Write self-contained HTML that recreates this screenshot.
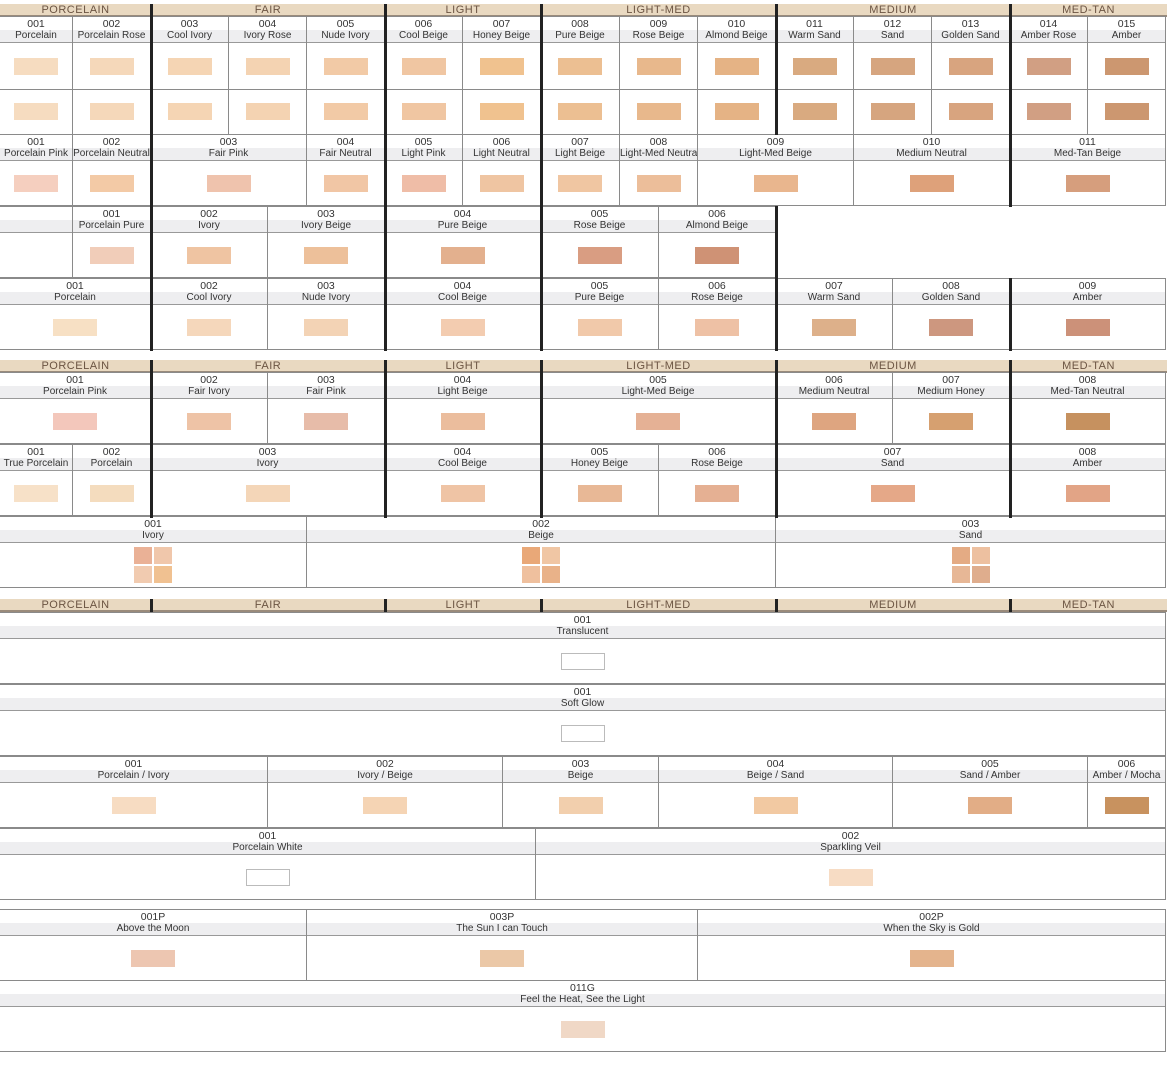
<!DOCTYPE html>
<html><head><meta charset="utf-8"><style>
*{box-sizing:border-box;margin:0;padding:0}
body{width:1173px;height:1087px;background:#fff;position:relative;overflow:hidden;font-family:"Liberation Sans",sans-serif;color:#333}
.c{position:absolute;height:72px;border:1px solid #8a8a8a;margin-left:-1px;margin-top:-1px}
.c b{display:block;font-weight:normal;font-size:10.5px;text-align:center;height:13px;line-height:14px;white-space:nowrap}
.c i{display:block;font-style:normal;font-size:10px;text-align:center;height:13px;line-height:12px;background:#eeeef0;border-bottom:1px solid #999;white-space:nowrap;overflow:hidden}
.c s{position:absolute;left:50%;margin-left:-22px;top:40px;width:44px;height:17px;text-decoration:none}
.t{height:119px}
.t s.a{top:41px}.t s.b2{top:86px}
.t u{position:absolute;left:0;right:0;top:72px;border-top:1px solid #8a8a8a}
.o{border:1px solid #bbb}
.q{position:absolute;left:50%;margin-left:-19px;top:30px;width:38px;height:36px;display:grid;grid-template-columns:1fr 1fr;gap:2px}
.h{position:absolute;height:13px;background:#e9d9c1;border-bottom:2px solid #9a8b7b;font-size:11px;color:#6b5442;text-align:center;line-height:12px;letter-spacing:.5px}
.v{position:absolute;width:3px;background:#222}
</style></head><body>
<!-- SECTION 1 headers -->
<div class="h" style="top:4px;left:0;width:151px">PORCELAIN</div>
<div class="h" style="top:4px;left:151px;width:234px">FAIR</div>
<div class="h" style="top:4px;left:385px;width:156px">LIGHT</div>
<div class="h" style="top:4px;left:541px;width:235px">LIGHT-MED</div>
<div class="h" style="top:4px;left:776px;width:234px">MEDIUM</div>
<div class="h" style="top:4px;left:1010px;width:157px">MED-TAN</div>
<!-- row1 -->
<div class="c t" style="top:17px;left:0;width:74px"><b>001</b><i>Porcelain</i><s class="a" style="background:#f6dcc0"></s><u></u><s class="b2" style="background:#f6dcc0"></s></div>
<div class="c t" style="top:17px;left:73px;width:79px"><b>002</b><i>Porcelain Rose</i><s class="a" style="background:#f5d8ba"></s><u></u><s class="b2" style="background:#f5d8ba"></s></div>
<div class="c t" style="top:17px;left:151px;width:79px"><b>003</b><i>Cool Ivory</i><s class="a" style="background:#f5d5b4"></s><u></u><s class="b2" style="background:#f5d5b4"></s></div>
<div class="c t" style="top:17px;left:229px;width:79px"><b>004</b><i>Ivory Rose</i><s class="a" style="background:#f4d3b2"></s><u></u><s class="b2" style="background:#f4d3b2"></s></div>
<div class="c t" style="top:17px;left:307px;width:79px"><b>005</b><i>Nude Ivory</i><s class="a" style="background:#f2caa6"></s><u></u><s class="b2" style="background:#f2caa6"></s></div>
<div class="c t" style="top:17px;left:385px;width:79px"><b>006</b><i>Cool Beige</i><s class="a" style="background:#f0c6a2"></s><u></u><s class="b2" style="background:#f0c6a2"></s></div>
<div class="c t" style="top:17px;left:463px;width:79px"><b>007</b><i>Honey Beige</i><s class="a" style="background:#f0c28f"></s><u></u><s class="b2" style="background:#f0c28f"></s></div>
<div class="c t" style="top:17px;left:541px;width:80px"><b>008</b><i>Pure Beige</i><s class="a" style="background:#ecbf92"></s><u></u><s class="b2" style="background:#ecbf92"></s></div>
<div class="c t" style="top:17px;left:620px;width:79px"><b>009</b><i>Rose Beige</i><s class="a" style="background:#e8b88c"></s><u></u><s class="b2" style="background:#e8b88c"></s></div>
<div class="c t" style="top:17px;left:698px;width:79px"><b>010</b><i>Almond Beige</i><s class="a" style="background:#e5b385"></s><u></u><s class="b2" style="background:#e5b385"></s></div>
<div class="c t" style="top:17px;left:776px;width:79px"><b>011</b><i>Warm Sand</i><s class="a" style="background:#d9aa80"></s><u></u><s class="b2" style="background:#d9aa80"></s></div>
<div class="c t" style="top:17px;left:854px;width:79px"><b>012</b><i>Sand</i><s class="a" style="background:#d6a57f"></s><u></u><s class="b2" style="background:#d6a57f"></s></div>
<div class="c t" style="top:17px;left:932px;width:79px"><b>013</b><i>Golden Sand</i><s class="a" style="background:#d8a47f"></s><u></u><s class="b2" style="background:#d8a47f"></s></div>
<div class="c t" style="top:17px;left:1010px;width:79px"><b>014</b><i>Amber Rose</i><s class="a" style="background:#d19f83"></s><u></u><s class="b2" style="background:#d19f83"></s></div>
<div class="c t" style="top:17px;left:1088px;width:79px"><b>015</b><i>Amber</i><s class="a" style="background:#cc9770"></s><u></u><s class="b2" style="background:#cc9770"></s></div>
<!-- row2 -->
<div class="c" style="top:135px;left:0;width:74px"><b>001</b><i>Porcelain Pink</i><s style="background:#f5cfbf"></s></div>
<div class="c" style="top:135px;left:73px;width:79px"><b>002</b><i>Porcelain Neutral</i><s style="background:#f3caa6"></s></div>
<div class="c" style="top:135px;left:151px;width:157px"><b>003</b><i>Fair Pink</i><s style="background:#efc3ad"></s></div>
<div class="c" style="top:135px;left:307px;width:79px"><b>004</b><i>Fair Neutral</i><s style="background:#f1c6a5"></s></div>
<div class="c" style="top:135px;left:385px;width:79px"><b>005</b><i>Light Pink</i><s style="background:#efbda7"></s></div>
<div class="c" style="top:135px;left:463px;width:79px"><b>006</b><i>Light Neutral</i><s style="background:#efc5a2"></s></div>
<div class="c" style="top:135px;left:541px;width:80px"><b>007</b><i>Light Beige</i><s style="background:#f0c6a2"></s></div>
<div class="c" style="top:135px;left:620px;width:79px"><b>008</b><i>Light-Med Neutral</i><s style="background:#ecbe9a"></s></div>
<div class="c" style="top:135px;left:698px;width:157px"><b>009</b><i>Light-Med Beige</i><s style="background:#e9b68e"></s></div>
<div class="c" style="top:135px;left:854px;width:157px"><b>010</b><i>Medium Neutral</i><s style="background:#dea17a"></s></div>
<div class="c" style="top:135px;left:1010px;width:157px"><b>011</b><i>Med-Tan Beige</i><s style="background:#d69e7d"></s></div>
<!-- row3 -->
<div class="c" style="top:207px;left:0;width:74px"><b>&nbsp;</b><i>&nbsp;</i></div>
<div class="c" style="top:207px;left:73px;width:79px"><b>001</b><i>Porcelain Pure</i><s style="background:#f1cdb9"></s></div>
<div class="c" style="top:207px;left:151px;width:118px"><b>002</b><i>Ivory</i><s style="background:#efc4a2"></s></div>
<div class="c" style="top:207px;left:268px;width:118px"><b>003</b><i>Ivory Beige</i><s style="background:#edc09a"></s></div>
<div class="c" style="top:207px;left:385px;width:157px"><b>004</b><i>Pure Beige</i><s style="background:#e3b08e"></s></div>
<div class="c" style="top:207px;left:541px;width:119px"><b>005</b><i>Rose Beige</i><s style="background:#d99d82"></s></div>
<div class="c" style="top:207px;left:659px;width:118px"><b>006</b><i>Almond Beige</i><s style="background:#cf9275"></s></div>
<!-- row4 -->
<div class="c" style="top:279px;left:0;width:152px"><b>001</b><i>Porcelain</i><s style="background:#f7e0c4"></s></div>
<div class="c" style="top:279px;left:151px;width:118px"><b>002</b><i>Cool Ivory</i><s style="background:#f5d7bb"></s></div>
<div class="c" style="top:279px;left:268px;width:118px"><b>003</b><i>Nude Ivory</i><s style="background:#f3d3b5"></s></div>
<div class="c" style="top:279px;left:385px;width:157px"><b>004</b><i>Cool Beige</i><s style="background:#f3ccb0"></s></div>
<div class="c" style="top:279px;left:541px;width:119px"><b>005</b><i>Pure Beige</i><s style="background:#f1c9aa"></s></div>
<div class="c" style="top:279px;left:659px;width:118px"><b>006</b><i>Rose Beige</i><s style="background:#eec1a5"></s></div>
<div class="c" style="top:279px;left:776px;width:118px"><b>007</b><i>Warm Sand</i><s style="background:#ddb08a"></s></div>
<div class="c" style="top:279px;left:893px;width:118px"><b>008</b><i>Golden Sand</i><s style="background:#cd977f"></s></div>
<div class="c" style="top:279px;left:1010px;width:157px"><b>009</b><i>Amber</i><s style="background:#cc9179"></s></div>
<div class="v" style="left:150px;top:4px;height:347px"></div>
<div class="v" style="left:384px;top:4px;height:347px"></div>
<div class="v" style="left:540px;top:4px;height:347px"></div>
<div class="v" style="left:775px;top:4px;height:131px"></div>
<div class="v" style="left:775px;top:206px;height:145px"></div>
<div class="v" style="left:1009px;top:4px;height:203px"></div>
<div class="v" style="left:1009px;top:278px;height:73px"></div>

<!-- SECTION 2 -->
<div class="h" style="top:360px;left:0;width:151px">PORCELAIN</div>
<div class="h" style="top:360px;left:151px;width:234px">FAIR</div>
<div class="h" style="top:360px;left:385px;width:156px">LIGHT</div>
<div class="h" style="top:360px;left:541px;width:235px">LIGHT-MED</div>
<div class="h" style="top:360px;left:776px;width:234px">MEDIUM</div>
<div class="h" style="top:360px;left:1010px;width:157px">MED-TAN</div>
<div class="c" style="top:373px;left:0;width:152px"><b>001</b><i>Porcelain Pink</i><s style="background:#f3c7bb"></s></div>
<div class="c" style="top:373px;left:151px;width:118px"><b>002</b><i>Fair Ivory</i><s style="background:#eec3a6"></s></div>
<div class="c" style="top:373px;left:268px;width:118px"><b>003</b><i>Fair Pink</i><s style="background:#e7bca9"></s></div>
<div class="c" style="top:373px;left:385px;width:157px"><b>004</b><i>Light Beige</i><s style="background:#ebbd9d"></s></div>
<div class="c" style="top:373px;left:541px;width:236px"><b>005</b><i>Light-Med Beige</i><s style="background:#e5b195"></s></div>
<div class="c" style="top:373px;left:776px;width:118px"><b>006</b><i>Medium Neutral</i><s style="background:#dea580"></s></div>
<div class="c" style="top:373px;left:893px;width:118px"><b>007</b><i>Medium Honey</i><s style="background:#d6a070"></s></div>
<div class="c" style="top:373px;left:1010px;width:157px"><b>008</b><i>Med-Tan Neutral</i><s style="background:#c6915f"></s></div>
<div class="c" style="top:445px;left:0;width:74px"><b>001</b><i>True Porcelain</i><s style="background:#f7e1c8"></s></div>
<div class="c" style="top:445px;left:73px;width:79px"><b>002</b><i>Porcelain</i><s style="background:#f4dcbe"></s></div>
<div class="c" style="top:445px;left:151px;width:235px"><b>003</b><i>Ivory</i><s style="background:#f4d6b8"></s></div>
<div class="c" style="top:445px;left:385px;width:157px"><b>004</b><i>Cool Beige</i><s style="background:#efc4a5"></s></div>
<div class="c" style="top:445px;left:541px;width:119px"><b>005</b><i>Honey Beige</i><s style="background:#e8b896"></s></div>
<div class="c" style="top:445px;left:659px;width:118px"><b>006</b><i>Rose Beige</i><s style="background:#e5b093"></s></div>
<div class="c" style="top:445px;left:776px;width:235px"><b>007</b><i>Sand</i><s style="background:#e5a888"></s></div>
<div class="c" style="top:445px;left:1010px;width:157px"><b>008</b><i>Amber</i><s style="background:#e2a486"></s></div>
<div class="c" style="top:517px;left:0;width:308px"><b>001</b><i>Ivory</i><div class="q"><span style="background:#eab196"></span><span style="background:#f0c7ab"></span><span style="background:#f1cbb0"></span><span style="background:#f0c191"></span></div></div>
<div class="c" style="top:517px;left:307px;width:470px"><b>002</b><i>Beige</i><div class="q"><span style="background:#e9a878"></span><span style="background:#f0c6a4"></span><span style="background:#efc09e"></span><span style="background:#e9b289"></span></div></div>
<div class="c" style="top:517px;left:776px;width:391px"><b>003</b><i>Sand</i><div class="q"><span style="background:#e4ab84"></span><span style="background:#edc0a0"></span><span style="background:#e7b796"></span><span style="background:#dfad8d"></span></div></div>
<div class="v" style="left:150px;top:360px;height:158px"></div>
<div class="v" style="left:384px;top:360px;height:158px"></div>
<div class="v" style="left:540px;top:360px;height:158px"></div>
<div class="v" style="left:775px;top:360px;height:158px"></div>
<div class="v" style="left:1009px;top:360px;height:158px"></div>

<!-- SECTION 3 -->
<div class="h" style="top:599px;left:0;width:151px">PORCELAIN</div>
<div class="h" style="top:599px;left:151px;width:234px">FAIR</div>
<div class="h" style="top:599px;left:385px;width:156px">LIGHT</div>
<div class="h" style="top:599px;left:541px;width:235px">LIGHT-MED</div>
<div class="h" style="top:599px;left:776px;width:234px">MEDIUM</div>
<div class="h" style="top:599px;left:1010px;width:157px">MED-TAN</div>
<div class="v" style="left:150px;top:599px;height:14px"></div>
<div class="v" style="left:384px;top:599px;height:14px"></div>
<div class="v" style="left:540px;top:599px;height:14px"></div>
<div class="v" style="left:775px;top:599px;height:14px"></div>
<div class="v" style="left:1009px;top:599px;height:14px"></div>
<div class="c" style="top:613px;left:0;width:1167px"><b>001</b><i>Translucent</i><s class="o" style="background:#fff"></s></div>
<div class="c" style="top:685px;left:0;width:1167px"><b>001</b><i>Soft Glow</i><s class="o" style="background:#fff"></s></div>
<div class="c" style="top:757px;left:0;width:269px"><b>001</b><i>Porcelain / Ivory</i><s style="background:#f7dcc2"></s></div>
<div class="c" style="top:757px;left:268px;width:236px"><b>002</b><i>Ivory / Beige</i><s style="background:#f5d4b4"></s></div>
<div class="c" style="top:757px;left:503px;width:157px"><b>003</b><i>Beige</i><s style="background:#f2cfad"></s></div>
<div class="c" style="top:757px;left:659px;width:235px"><b>004</b><i>Beige / Sand</i><s style="background:#f2c9a2"></s></div>
<div class="c" style="top:757px;left:893px;width:196px"><b>005</b><i>Sand / Amber</i><s style="background:#e2ad86"></s></div>
<div class="c" style="top:757px;left:1088px;width:79px"><b>006</b><i>Amber / Mocha</i><s style="background:#c8925f"></s></div>
<div class="c" style="top:829px;left:0;width:537px"><b>001</b><i>Porcelain White</i><s class="o" style="background:#fff"></s></div>
<div class="c" style="top:829px;left:536px;width:631px"><b>002</b><i>Sparkling Veil</i><s style="background:#f7dcc4"></s></div>

<!-- SECTION 4 -->
<div class="c" style="top:910px;left:0;width:308px"><b>001P</b><i>Above the Moon</i><s style="background:#edc6b1"></s></div>
<div class="c" style="top:910px;left:307px;width:392px"><b>003P</b><i>The Sun I can Touch</i><s style="background:#ebc8a7"></s></div>
<div class="c" style="top:910px;left:698px;width:469px"><b>002P</b><i>When the Sky is Gold</i><s style="background:#e4b48d"></s></div>
<div class="c" style="top:981px;left:0;width:1167px"><b>011G</b><i>Feel the Heat, See the Light</i><s style="background:#f0d8c6"></s></div>
</body></html>
